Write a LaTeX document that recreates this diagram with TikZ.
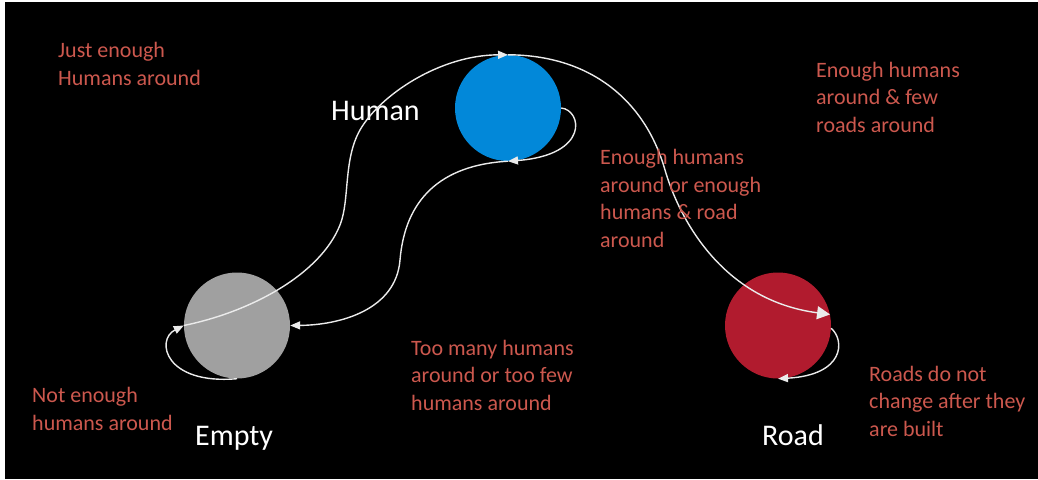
\documentclass[tikz,border=0pt]{standalone}
\usepackage{fontspec}
\setmainfont{Carlito}
\usetikzlibrary{arrows.meta}
\definecolor{humanblue}{RGB}{2,136,217}
\definecolor{emptygray}{RGB}{160,160,160}
\definecolor{roadred}{RGB}{177,27,46}
\definecolor{rulered}{RGB}{204,88,78}
\begin{document}
\begin{tikzpicture}[x=1pt,y=-1pt,
  state/.style={circle, minimum size=106pt, inner sep=0pt, draw=none},
  statename/.style={text=white, font=\fontsize{30}{36}\selectfont, anchor=base west, inner sep=0pt},
  % multi-line rules: the base anchor sits on the last line
  rule/.style={text=rulered, font=\fontsize{22}{27.5}\selectfont, align=left, anchor=base west, inner sep=0pt},
  flow/.style={draw=white!92!black, line width=1.4pt, -{Triangle[length=10pt,width=8pt]}},
  bigflow/.style={flow, -{Triangle[length=13pt,width=13pt]}},
]
% page and dark panel
\fill[white] (0,0) rectangle (1038,479);
\fill[black] (5,2) rectangle (1038,479);
\useasboundingbox (0,0) rectangle (1038,479);

% cell states
\node[state, fill=humanblue] (human) at (508,108) {};
\node[state, fill=emptygray] (empty) at (237,325.5) {};
\node[state, fill=roadred] (road) at (778,325.5) {};

\node[statename] (hl) at (331,120) {Human};
\node[statename] (el) at (195,445) {Empty};
\node[statename] (rl) at (762,445) {Road};

% transitions
\draw[flow] (empty.west) .. controls (250,312) and (320,275) .. (340,225)
  .. controls (350,200) and (343,160) .. (360,130)
  .. controls (380,95) and (440,55) .. (human.north);
\draw[bigflow] (human.north) .. controls (590,55) and (645,100) .. (665,170)
  .. controls (678,215) and (720,300) .. (road.12);
\draw[flow] (human.east) .. controls (582,110) and (590,155) .. (human.south);
\draw[flow] (human.south) .. controls (440,165) and (405,200) .. (400,260)
  .. controls (396,310) and (340,325) .. (empty.east);
\draw[flow] (road.-3) .. controls (845,340) and (845,375) .. (road.south);
\draw[flow] (empty.south) .. controls (165,385) and (155,340) .. (empty.west);

% transition rules
\node[rule] (t1) at (58,85) {Just enough\\Humans around};
\node[rule] (t2) at (816,132) {Enough humans\\around \& few\\roads around};
\node[rule] (t3) at (600,247) {Enough humans\\around or enough\\humans \& road\\around};
\node[rule] (t4) at (411,410) {Too many humans\\around or too few\\humans around};
\node[rule] (t5) at (32,430) {Not enough\\humans around};
\node[rule] (t6) at (869,436) {Roads do not\\change after they\\are built};
\end{tikzpicture}
\end{document}
